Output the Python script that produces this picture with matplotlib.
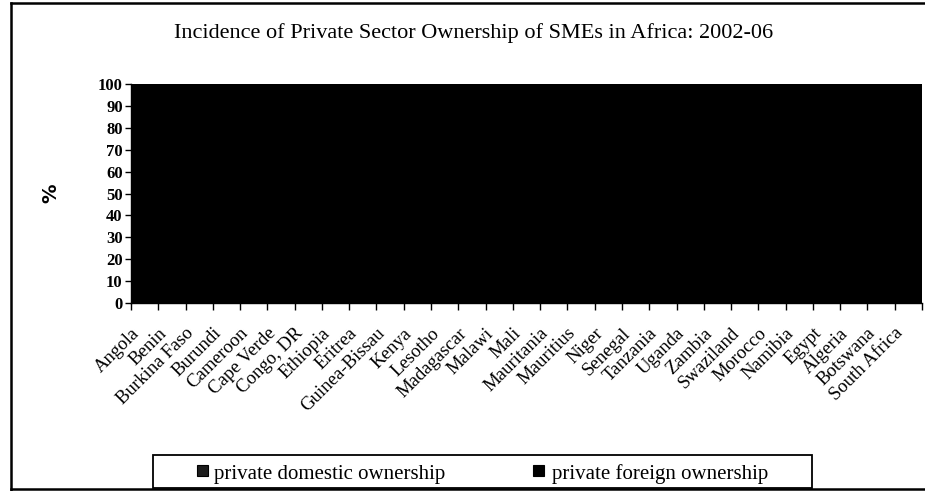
import numpy as np
import matplotlib
matplotlib.use('Agg')
import matplotlib.pyplot as plt
from matplotlib.patches import Rectangle
from matplotlib.lines import Line2D
import matplotlib.transforms as mtransforms

plt.rcParams['font.family'] = ['Liberation Serif', 'DejaVu Serif']

# Countries and ownership shares (% of SMEs), read/estimated from the chart
countries = ['Angola', 'Benin', 'Burkina Faso', 'Burundi', 'Cameroon', 'Cape Verde',
             'Congo, DR', 'Ethiopia', 'Eritrea', 'Guinea-Bissau', 'Kenya', 'Lesotho',
             'Madagascar', 'Malawi', 'Mali', 'Mauritania', 'Mauritius', 'Niger',
             'Senegal', 'Tanzania', 'Uganda', 'Zambia', 'Swaziland', 'Morocco',
             'Namibia', 'Egypt', 'Algeria', 'Botswana', 'South Africa']
domestic = [83, 88, 90, 87, 78, 85, 86, 95, 97, 89, 82, 58, 72, 80, 92, 91, 88, 90,
            86, 81, 83, 74, 62, 93, 67, 96, 97, 66, 88]
foreign = [17, 12, 10, 13, 22, 15, 14, 5, 3, 11, 18, 42, 28, 20, 8, 9, 12, 10,
           14, 19, 17, 26, 38, 7, 33, 4, 3, 34, 12]
series_names = ['private domestic ownership', 'private foreign ownership']

W, H = 925, 491
fig = plt.figure(figsize=(W / 100, H / 100), dpi=100)
ax = fig.add_axes([131 / W, 1 - 303 / H, (922 - 131) / W, (303 - 84) / H])

x = np.arange(len(countries))
ax.bar(x, domestic, width=1.0, color='black', linewidth=0, antialiased=False)
ax.bar(x, foreign, bottom=domestic, width=1.0, color='black', linewidth=0,
       antialiased=False)

ax.set_xlim(-0.5, len(countries) - 0.5)
ax.set_ylim(0, 100)
ax.set_yticks(range(0, 101, 10))
ax.set_yticklabels([str(v) for v in range(0, 101, 10)], fontsize=12, fontweight='bold')
ax.tick_params(axis='y', direction='out', length=4, width=1, pad=2)

# tick marks on category boundaries, labels at centres
ax.set_xticks(np.arange(len(countries) + 1) - 0.5)
ax.set_xticklabels([])
ax.tick_params(axis='x', which='major', direction='out', length=5, width=1)
ax.set_xticks(x, minor=True)
ax.set_xticklabels(countries, minor=True, rotation=45, ha='right', va='center',
                   rotation_mode='anchor', fontsize=13.5)
ax.tick_params(axis='x', which='minor', length=0, pad=20)
shift = mtransforms.ScaledTranslation(-8 / 100, 0, fig.dpi_scale_trans)
for lab in ax.get_xticklabels(minor=True):
    lab.set_transform(lab.get_transform() + shift)

for s in ['top', 'right']:
    ax.spines[s].set_visible(False)
ax.spines['left'].set_linewidth(1)
ax.spines['bottom'].set_linewidth(1)

ax.set_ylabel('%', fontsize=14, fontweight='bold', fontfamily='DejaVu Sans')
ax.yaxis.set_label_coords((60 - 131) / (922 - 131), 0.5)

fig.text(474 / W, 1 - 33 / H, 'Incidence of Private Sector Ownership of SMEs in Africa: 2002-06',
         ha='center', va='center', fontsize=16)

# legend box drawn by hand to match the original placement
fig.add_artist(Rectangle((153 / W, 1 - 488 / H), (812 - 153) / W, 33 / H,
                         transform=fig.transFigure, fill=False, edgecolor='black',
                         linewidth=1.3))
for mx, tx, name, fc in [(197, 214, series_names[0], '#1c1c1c'),
                         (533, 552, series_names[1], 'black')]:
    fig.add_artist(Rectangle((mx / W, 1 - 476 / H), 11 / W, 11 / H,
                             transform=fig.transFigure, facecolor=fc,
                             edgecolor='black', linewidth=0.8))
    fig.text(tx / W, 1 - 472 / H, name, ha='left', va='center_baseline', fontsize=15)

# outer chart frame
for xs, ys in [([11, 925], [3, 3]), ([11, 11], [3, 491]), ([11, 925], [489, 489])]:
    fig.add_artist(Line2D([v / W for v in xs], [1 - v / H for v in ys],
                          color='black', linewidth=1.8))

fig.savefig('out.png', dpi=100)
